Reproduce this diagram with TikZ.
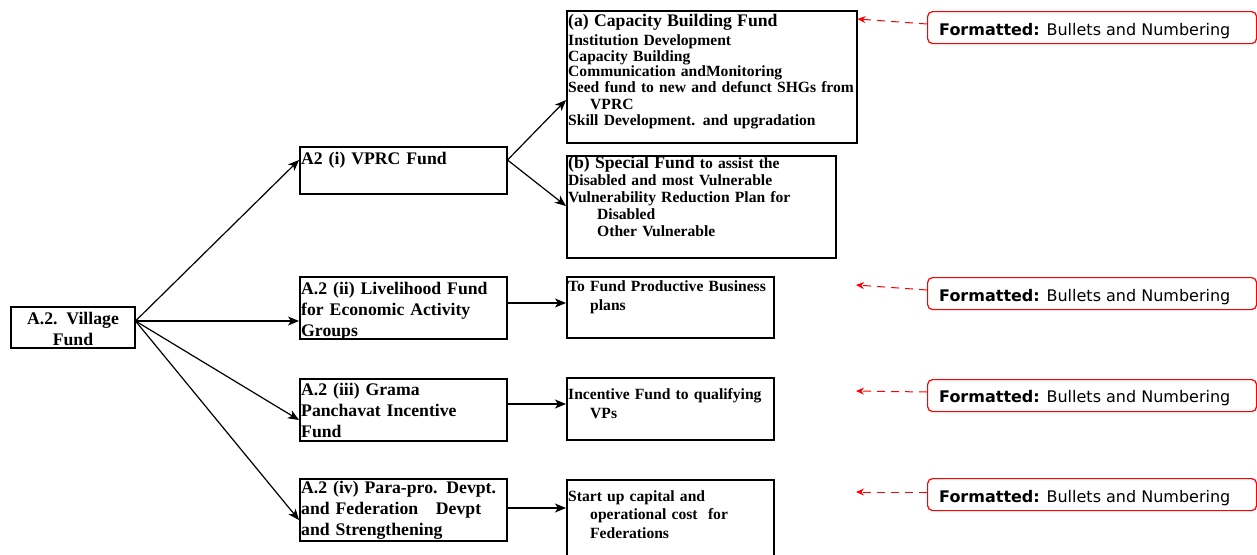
\documentclass[tikz,border=0pt]{standalone}
\usepackage{fontspec}
\setmainfont{Liberation Serif}
\newfontfamily\tahfont{DejaVu Sans}
\usetikzlibrary{arrows.meta,calc}
\newcommand\BigF{\fontsize{17.7}{21}\selectfont}
\newcommand\SmF[1]{\fontsize{15.6}{#1}\selectfont}
\newcommand\TightL{\lineskiplimit=-30pt\relax\lineskip=0pt\relax}
\begin{document}
\begin{tikzpicture}[x=1pt,y=-1pt,
  box/.style={draw, line width=1.5pt, inner sep=0pt, anchor=north west},
  txt/.style={anchor=base west, inner sep=0pt, align=left, text width=330pt},
  arr/.style={line width=1.2pt, -{Stealth[length=11pt,width=9pt,inset=3pt]}},
  cbox/.style={draw=red, line width=1.2pt, rounded corners=5pt, inner sep=0pt, anchor=north west,
    minimum width=329pt, minimum height=32pt},
  ctxt/.style={anchor=base west, inner sep=0pt, font=\tahfont\fontsize{16}{19}\selectfont},
  rdash/.style={red, line width=1pt, dash pattern=on 8pt off 6pt, -{Stealth[length=8pt,width=7pt]}}]
\useasboundingbox (0,0) rectangle (1257,554);

% boxes
\node[box, minimum width=124pt, minimum height=41pt] (vf) at (10,306) {};
\node[box, minimum width=207pt, minimum height=47pt] (vprc) at (299,146) {};
\node[box, minimum width=207pt, minimum height=62pt] (liv) at (299,276) {};
\node[box, minimum width=207pt, minimum height=62pt] (gp) at (299,378) {};
\node[box, minimum width=207pt, minimum height=62pt] (pp) at (299,478) {};
\node[box, minimum width=290pt, minimum height=132pt] (cap) at (566,10) {};
\node[box, minimum width=269pt, minimum height=102pt] (spec) at (566,155) {};
\node[box, minimum width=207pt, minimum height=61pt] (tf) at (566,276) {};
\node[box, minimum width=207pt, minimum height=62pt] (inc) at (566,377) {};
\node[box, minimum width=207pt, minimum height=80pt] (st) at (566,479) {};

% texts
\node[anchor=base, inner sep=0pt, align=center, text width=124pt,
  font=\bfseries\BigF] (vf-t) at (73,324) {A.2. Village\\Fund};
\node[txt, font=\bfseries\BigF] (vprc-t) at (301,164) {A2 (i) VPRC Fund};
\node[txt, font=\bfseries\BigF] (liv-t) at (301,294) {A.2 (ii) Livelihood Fund\\for Economic Activity\\Groups};
\node[txt, font=\bfseries\BigF] (gp-t) at (301,395) {A.2 (iii) Grama\\Panchavat Incentive\\Fund};
\node[txt, font=\bfseries\BigF] (pp-t) at (301,493) {A.2 (iv) Para-pro. Devpt.\\and Federation\ \ \ Devpt\\and Strengthening};
\node[txt, font=\TightL\bfseries\SmF{16}] (cap-t) at (568,27) {{\BigF (a) Capacity Building Fund}\\[2pt]Institution Development\\Capacity Building\\Communication andMonitoring\\Seed fund to new and defunct SHGs from\\\hspace*{22pt}VPRC\\Skill Development. and upgradation};
\node[txt, font=\TightL\bfseries\SmF{17}] (spec-t) at (568,168) {{\BigF (b) Special Fund} to assist the\\Disabled and most Vulnerable\\Vulnerability Reduction Plan for\\\hspace*{29pt}Disabled\\\hspace*{29pt}Other Vulnerable};
\node[txt, font=\bfseries\SmF{19}] (tf-t) at (568,291) {To Fund Productive Business\\\hspace*{22pt}plans};
\node[txt, font=\bfseries\SmF{19}] (inc-t) at (568,399) {Incentive Fund to qualifying\\\hspace*{22pt}VPs};
\node[txt, font=\bfseries\SmF{18.5}] (st-t) at (568,501) {Start up capital and\\\hspace*{22pt}operational cost\ \ for\\\hspace*{22pt}Federations};

% black arrows
\draw[arr] ($(vf.north east)+(0,15)$) -- ($(vprc.north west)+(0,14)$);
\draw[arr] ($(vf.north east)+(0,15)$) -- ($(liv.north west)+(0,45)$);
\draw[arr] ($(vf.north east)+(0,15)$) -- ($(gp.north west)+(0,42)$);
\draw[arr] ($(vf.north east)+(0,15)$) -- ($(pp.north west)+(0,42)$);
\draw[arr] ($(vprc.north east)+(0,14)$) -- ($(cap.north west)+(0,90)$);
\draw[arr] ($(vprc.north east)+(0,14)$) -- ($(spec.north west)+(0,51)$);
\draw[arr] ($(liv.north east)+(0,27)$) -- ($(tf.north west)+(0,27)$);
\draw[arr] ($(gp.north east)+(0,26)$) -- ($(inc.north west)+(0,27)$);
\draw[arr] ($(pp.north east)+(0,30)$) -- ($(st.north west)+(0,29)$);

% callouts
\node[cbox] (c1) at (927,11) {};
\node[cbox] (c2) at (927,277) {};
\node[cbox] (c3) at (927,379) {};
\node[cbox] (c4) at (927,478) {};
\node[ctxt] (c1-t) at (939,35) {\textbf{Formatted:} Bullets and Numbering};
\node[ctxt] (c2-t) at (939,301) {\textbf{Formatted:} Bullets and Numbering};
\node[ctxt] (c3-t) at (939,402) {\textbf{Formatted:} Bullets and Numbering};
\node[ctxt] (c4-t) at (939,502) {\textbf{Formatted:} Bullets and Numbering};
\coordinate (e2) at (856,285);
\coordinate (e3) at (856,391);
\coordinate (e4) at (856,492);
\draw[rdash] ($(c1.north west)+(0,13)$) -- ($(cap.north east)+(0,9)$);
\draw[rdash] ($(c2.north west)+(0,13)$) -- (e2);
\draw[rdash] ($(c3.north west)+(0,13)$) -- (e3);
\draw[rdash] ($(c4.north west)+(0,14)$) -- (e4);
\end{tikzpicture}
\end{document}
